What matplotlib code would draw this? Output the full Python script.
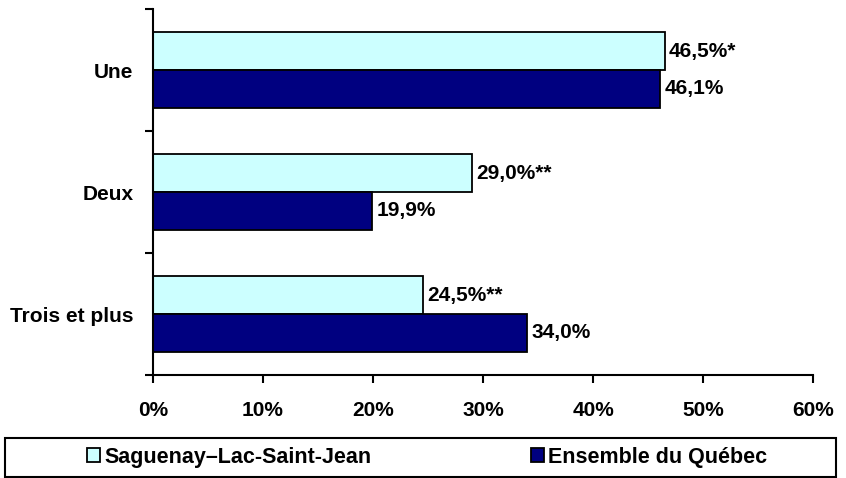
import matplotlib.pyplot as plt
from matplotlib.patches import Rectangle
import numpy as np

plt.rcParams['font.family'] = ['Liberation Sans', 'DejaVu Sans']
plt.rcParams['font.weight'] = 'bold'

categories = ["Une", "Deux", "Trois et plus"]
saguenay = [46.5, 29.0, 24.5]
quebec = [46.1, 19.9, 34.0]
saguenay_labels = ["46,5%*", "29,0%**", "24,5%**"]
quebec_labels = ["46,1%", "19,9%", "34,0%"]
series_names = ["Saguenay\u2013Lac-Saint-Jean", "Ensemble du Québec"]
xticks = [0, 10, 20, 30, 40, 50, 60]

FS = 15
W, H = 846, 478

fig = plt.figure(figsize=(8.46, 4.78), dpi=100)
ax = fig.add_axes([153 / W, 1 - 375 / H, 660 / W, 366 / H])

y = np.arange(len(categories))
h = 0.31
b1 = ax.barh(y - h / 2, saguenay, height=h, color="#CCFFFF", edgecolor="black", linewidth=1.3)
b2 = ax.barh(y + h / 2, quebec, height=h, color="#000080", edgecolor="black", linewidth=1.3)

for i in range(len(categories)):
    ax.text(saguenay[i] + 0.4, y[i] - h / 2, saguenay_labels[i], va="center", ha="left",
            fontsize=FS, fontweight="bold")
    ax.text(quebec[i] + 0.4, y[i] + h / 2, quebec_labels[i], va="center", ha="left",
            fontsize=FS, fontweight="bold")

ax.set_ylim(len(categories) - 0.5, -0.5)
ax.set_xlim(0, 60)
ax.set_xticks(xticks)
ax.set_xticklabels([f"{t}%" for t in xticks], fontsize=FS, fontweight="bold")
ax.set_yticks(y)
ax.set_yticklabels(categories, fontsize=FS, fontweight="bold")
ax.set_yticks(np.arange(-0.5, len(categories), 1.0), minor=True)
ax.tick_params(axis="y", which="major", length=0, pad=14)
ax.tick_params(axis="y", which="minor", length=6, width=1.5, direction="out")
ax.tick_params(axis="x", length=6, width=1.5, direction="out", pad=13)

for side in ["top", "right"]:
    ax.spines[side].set_visible(False)
for side in ["left", "bottom"]:
    ax.spines[side].set_linewidth(1.5)

# legend frame
fig.patches.append(Rectangle((5 / W, 1 / H), 831 / W, 39 / H, transform=fig.transFigure,
                             fill=False, edgecolor="black", linewidth=1.5))
for bar, name, x0 in [(b1, series_names[0], 87), (b2, series_names[1], 531)]:
    leg = fig.legend([bar], [name], loc="center left", bbox_to_anchor=(x0 / W, 1 - 457 / H),
                     fontsize=15.5, frameon=False, handlelength=0.6, handleheight=0.6,
                     handletextpad=0.2, borderaxespad=0, borderpad=0)
    for t in leg.get_texts():
        t.set_fontweight("bold")

fig.savefig("out.png", dpi=100)
